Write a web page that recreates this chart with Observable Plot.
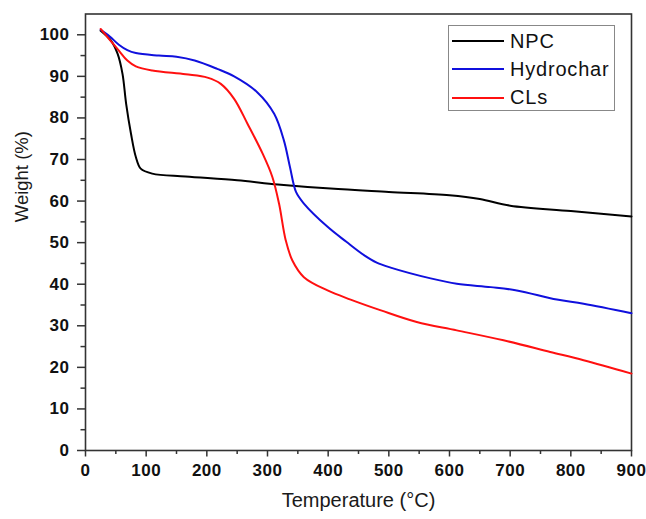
<!DOCTYPE html>
<html>
<head>
<meta charset="utf-8">
<script src="https://cdn.jsdelivr.net/npm/d3@7"></script>
<script src="https://cdn.jsdelivr.net/npm/@observablehq/plot@0.6"></script>
<style>
  html, body { margin: 0; padding: 0; background: #fff; }
  #wrap { position: relative; width: 646px; height: 519px; font-family: "Liberation Sans", Arial, sans-serif; }
  g[aria-label$="tick label"] text { letter-spacing: 0.5px; }
  #legend { position: absolute; left: 448px; top: 25px; width: 167px; height: 86px; border: 1px solid #888; background: #fff; box-sizing: border-box; padding-top: 1px; }
  .row { display: flex; align-items: center; height: 28.3px; }
  .sw { width: 52px; height: 2px; margin-left: 3px; }
  .lab { margin-left: 6px; font-size: 20px; letter-spacing: 0.8px; color: #111; }
</style>
</head>
<body>
<div id="wrap"></div>
<script>
// Series names and colours
const seriesNames = ["NPC", "Hydrochar", "CLs"];
const seriesColors = ["#000000", "#1010dd", "#ff1010"];

// NPC
const npcT = [25, 42, 53, 61, 67, 75, 83, 91, 110, 165, 250, 317, 404, 500, 600, 650, 700, 800, 900];
const npcW = [101, 98.6, 95.4, 90.6, 83.4, 76.2, 70.6, 67.8, 66.6, 65.9, 65.0, 64.0, 63.0, 62.2, 61.4, 60.5, 58.9, 57.6, 56.3];

// Hydrochar
const hydT = [25, 40, 55, 69, 83, 121, 150, 180, 217, 245, 283, 311, 327, 337, 347, 360, 399, 430, 459, 480, 503, 569, 612, 668, 711, 777, 821, 900];
const hydW = [101.2, 99.6, 97.6, 96.3, 95.6, 95.0, 94.7, 93.8, 91.8, 90.0, 86.2, 81.0, 74.6, 68.2, 62.2, 59.4, 53.8, 50.2, 47.0, 45.2, 44.0, 41.4, 40.1, 39.3, 38.5, 36.3, 35.3, 33.0];

// CLs
const clsT = [25, 40, 55, 69, 83, 110, 165, 201, 223, 245, 267, 292, 308, 319, 330, 341, 360, 399, 437, 487, 546, 612, 689, 766, 821, 900];
const clsW = [101.4, 98.8, 96.2, 93.8, 92.4, 91.4, 90.5, 89.7, 88.2, 84.6, 78.6, 71.4, 65.8, 59.4, 50.6, 45.7, 41.7, 38.5, 36.3, 33.7, 30.9, 28.9, 26.5, 23.7, 21.7, 18.5];

// Axis ticks
const xMajor = [0, 100, 200, 300, 400, 500, 600, 700, 800, 900];
const xMinor = [50, 150, 250, 350, 450, 550, 650, 750, 850];
const yMajor = [0, 10, 20, 30, 40, 50, 60, 70, 80, 90, 100];
const yMinor = [5, 15, 25, 35, 45, 55, 65, 75, 85, 95];

const xTitle = "Temperature (°C)";
const yTitle = "Weight (%)";

const series = [[npcT, npcW], [hydT, hydW], [clsT, clsW]];
const data = series.flatMap(([T, W], i) => T.map((t, j) => ({series: seriesNames[i], T: t, W: W[j]})));

const chart = Plot.plot({
  width: 646,
  height: 519,
  marginLeft: 85,
  marginRight: 15,
  marginTop: 13.5,
  marginBottom: 69,
  x: {domain: [0, 900]},
  y: {domain: [0, 105]},
  color: {domain: seriesNames, range: seriesColors},
  style: {fontFamily: "'Liberation Sans', Arial, sans-serif", background: "#fff", color: "#111"},
  marks: [
    Plot.axisY(yMinor, {tickSize: 4.5, tickFormat: () => "", label: null, stroke: "#333", strokeWidth: 1.5}),
    Plot.axisY(yMajor, {tickSize: 8, tickPadding: 8, fontSize: 17, fontWeight: "bold", fill: "#111", label: null, stroke: "#333", strokeWidth: 1.5}),
    Plot.axisX(xMinor, {tickSize: 4, tickFormat: () => "", label: null, stroke: "#333", strokeWidth: 1.5}),
    Plot.axisX(xMajor, {tickSize: 6.5, tickPadding: 7, fontSize: 17, fontWeight: "bold", fill: "#111", label: null, stroke: "#333", strokeWidth: 1.5}),
    Plot.frame({stroke: "#333", strokeWidth: 1.6}),
    Plot.line(data, {x: "T", y: "W", z: "series", stroke: "series", strokeWidth: 2, curve: "catmull-rom"}),
    Plot.text([xTitle], {frameAnchor: "bottom", dy: 56, fontSize: 20, fill: "#1a1a1a", text: d => d}),
    Plot.text([yTitle], {frameAnchor: "left", rotate: -90, dx: -63, dy: -10, fontSize: 18.5, fill: "#1a1a1a", text: d => d})
  ]
});

const wrap = document.getElementById("wrap");
wrap.appendChild(chart);

const legend = document.createElement("div");
legend.id = "legend";
seriesNames.forEach((name, i) => {
  const row = document.createElement("div");
  row.className = "row";
  const sw = document.createElement("div");
  sw.className = "sw";
  sw.style.background = seriesColors[i];
  const lab = document.createElement("span");
  lab.className = "lab";
  lab.textContent = name;
  row.appendChild(sw);
  row.appendChild(lab);
  legend.appendChild(row);
});
wrap.appendChild(legend);
</script>
</body>
</html>
